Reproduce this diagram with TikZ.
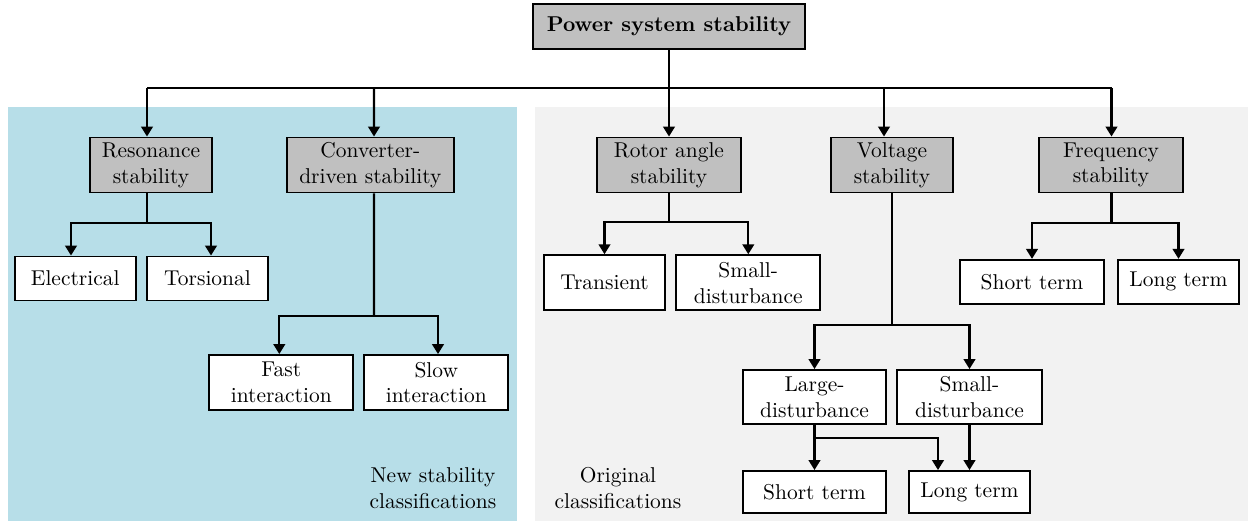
\documentclass[tikz,border=0pt]{standalone}
\usetikzlibrary{arrows.meta,calc}
\definecolor{newbg}{RGB}{183,222,232}
\definecolor{oldbg}{RGB}{242,242,242}
\definecolor{boxgray}{RGB}{192,192,192}
\tikzset{
  box/.style={draw,line width=0.9pt,fill=white,align=center,inner sep=0pt},
  gbox/.style={box,fill=boxgray},
  bw/.style={minimum width=#1*0.466pt},
  bh/.style={minimum height=#1*0.466pt},
  conn/.style={line width=0.95pt},
  arr/.style={line width=0.95pt,-{Triangle[length=4.6pt,width=5.4pt]}},
  note/.style={align=center,inner sep=0pt}
}
\begin{document}
\begin{tikzpicture}[x=0.466pt,y=-0.466pt]
\useasboundingbox (0,0) rectangle (1259,523);
% backgrounds
\fill[newbg] (8,107) rectangle (517,521);
\fill[oldbg] (535,107) rectangle (1248,521);
% nodes
\node[gbox,bw=272,bh=45] (pss) at (669,26.5) {\textbf{Power system stability}};
\node[gbox,bw=122,bh=55] (res) at (151,165) {Resonance\\stability};
\node[gbox,bw=167,bh=55] (conv) at (370.3,165) {Converter-\\driven stability};
\node[gbox,bw=144,bh=55] (rot) at (669,165) {Rotor angle\\stability};
\node[gbox,bw=122,bh=55] (volt) at (892,165) {Voltage\\stability};
\node[gbox,bw=144,bh=55] (freq) at (1111,165) {Frequency\\stability};
\node[box,bw=121,bh=44] (elec) at (75.2,278.5) {Electrical};
\node[box,bw=121,bh=44] (tors) at (207.5,278.5) {Torsional};
\node[box,bw=144,bh=55] (fast) at (281.3,382.5) {Fast\\interaction};
\node[box,bw=144,bh=55] (slow) at (436.3,382.5) {Slow\\interaction};
\node[box,bw=121,bh=55] (trans) at (604.5,282.7) {Transient};
\node[box,bw=144,bh=55] (rsmall) at (748.3,282.7) {Small-\\disturbance};
\node[box,bw=144,bh=44] (fshort) at (1032,281.8) {Short term};
\node[box,bw=121,bh=44] (flong) at (1178.5,281.8) {Long term};
\node[box,bw=143,bh=54] (vlarge) at (814.5,397) {Large-\\disturbance};
\node[box,bw=145,bh=54] (vsmall) at (969.5,397) {Small-\\disturbance};
\node[box,bw=143,bh=42] (vshort) at (814.5,492) {Short term};
\node[box,bw=121,bh=42] (vlong) at (969.5,492) {Long term};
% labels
\node[note] (newlab) at (433,488) {New stability\\classifications};
\node[note] (oldlab) at (618,488) {Original\\classifications};
% top level connectors
\coordinate (bus) at (669,88);
\draw[conn] (bus -| 147,0) -- (bus -| 1111.5,0);
\draw[arr] (pss.south) -- (rot.north);
\draw[arr] (bus -| 147,0) -- ($(res.north)+(-4,0)$);
\draw[arr] (bus -| 374,0) -- ($(conv.north)+(3.7,0)$);
\draw[arr] (bus -| 884,0) -- ($(volt.north)+(-8,0)$);
\draw[arr] (bus -| 1111.5,0) -- ($(freq.north)+(0.5,0)$);
% resonance
\coordinate (jres) at (147,222.7);
\draw[conn] ($(res.south)+(-4,0)$) -- (jres);
\draw[arr] (jres) -| ($(elec.north)+(-4.2,0)$);
\draw[arr] (jres) -| ($(tors.north)+(3.5,0)$);
% converter-driven
\coordinate (jconv) at (374,316.3);
\draw[conn] ($(conv.south)+(3.7,0)$) -- (jconv);
\draw[arr] (jconv) -| ($(fast.north)+(-2,0)$);
\draw[arr] (jconv) -| ($(slow.north)+(1.7,0)$);
% rotor angle
\coordinate (jrot) at (669,222.3);
\draw[conn] (rot.south) -- (jrot);
\draw[arr] (jrot) -| (trans.north);
\draw[arr] (jrot) -| (rsmall.north);
% voltage
\coordinate (jvolt) at (892,324.7);
\draw[conn] (volt.south) -- (jvolt);
\draw[arr] (jvolt) -| (vlarge.north);
\draw[arr] (jvolt) -| (vsmall.north);
\coordinate (jlarge) at (814.5,438.3);
\draw[arr] (vlarge.south) -- (vshort.north);
\draw[arr] (jlarge) -| ($(vlong.north)+(-31.5,0)$);
\draw[arr] (vsmall.south) -- (vlong.north);
% frequency
\coordinate (jfreq) at (1111.5,222.7);
\draw[conn] ($(freq.south)+(0.5,0)$) -- (jfreq);
\draw[arr] (jfreq) -| (fshort.north);
\draw[arr] (jfreq) -| (flong.north);
\end{tikzpicture}
\end{document}
